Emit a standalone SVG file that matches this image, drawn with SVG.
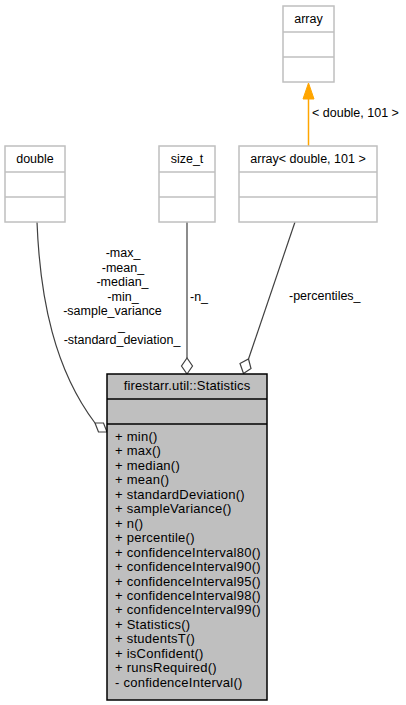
<svg xmlns="http://www.w3.org/2000/svg" width="406" height="705" viewBox="0 0 406 705">
<style>
text{font-family:"Liberation Sans",Arial,sans-serif;font-size:12.5px;fill:#000}
.c{text-anchor:middle}
.m{font-size:13px;letter-spacing:0.25px}
.t{font-size:13px;letter-spacing:0.15px}
.ext{fill:#fff;stroke:#bfbfbf;stroke-width:1.5}
.sep{stroke:#bfbfbf;stroke-width:1.5}
.main{fill:#bfbfbf;stroke:#000;stroke-width:1.5}
.msep{stroke:#000;stroke-width:1.5}
.edge{fill:none;stroke:#404040;stroke-width:1.2}
.dia{fill:#fff;stroke:#404040;stroke-width:1.2}
.tpl{fill:none;stroke:#ffa500;stroke-width:1.5}
</style>
<g id="connectors">
<path class="edge" d="M37,222 C40,300 55,370 95,423"/>
<polygon class="dia" points="107,432 103.5,423 95,423 98.5,432"/>
<path class="edge" d="M187,222 L187,358"/>
<polygon class="dia" points="187,374 192.5,366 187,358 181.5,366"/>
<path class="edge" d="M295,222 L248.5,359"/>
<polygon class="dia" points="243.5,373.5 251,368.5 248.5,359 240,363.5"/>
<path class="tpl" d="M308.5,146 L308.5,98"/>
<polygon fill="#ffa500" stroke="#ffa500" points="308.5,83 303,99 314,99"/>
<text x="123" y="257" class="c">-max_</text>
<text x="123" y="271.5" class="c">-mean_</text>
<text x="122.5" y="286" class="c">-median_</text>
<text x="123" y="300.5" class="c">-min_</text>
<text x="112.5" y="315" class="c">-sample_variance</text>
<text x="121.5" y="329.5" class="c">_</text>
<text x="122" y="344" class="c">-standard_deviation_</text>
<text x="190" y="301">-n_</text>
<text x="289" y="300">-percentiles_</text>
<text x="312" y="117">&lt; double, 101 &gt;</text>
</g>
<g id="node-array">
<rect class="ext" x="283" y="6" width="51" height="76"/>
<line class="sep" x1="283" y1="32" x2="334" y2="32"/>
<line class="sep" x1="283" y1="57" x2="334" y2="57"/>
<text x="308.5" y="23" class="c">array</text>
</g>
<g id="node-double">
<rect class="ext" x="5" y="146" width="60" height="76"/>
<line class="sep" x1="5" y1="172" x2="65" y2="172"/>
<line class="sep" x1="5" y1="197" x2="65" y2="197"/>
<text x="35" y="163" class="c">double</text>
</g>
<g id="node-size_t">
<rect class="ext" x="159" y="146" width="56" height="76"/>
<line class="sep" x1="159" y1="172" x2="215" y2="172"/>
<line class="sep" x1="159" y1="197" x2="215" y2="197"/>
<text x="187" y="163" class="c">size_t</text>
</g>
<g id="node-array_double_101">
<rect class="ext" x="239" y="146" width="138" height="76"/>
<line class="sep" x1="239" y1="172" x2="377" y2="172"/>
<line class="sep" x1="239" y1="197" x2="377" y2="197"/>
<text x="308" y="163" class="c">array&lt; double, 101 &gt;</text>
</g>
<g id="node-Statistics">
<rect class="main" x="107" y="374" width="160" height="326"/>
<line class="msep" x1="107" y1="399" x2="267" y2="399"/>
<line class="msep" x1="107" y1="424" x2="267" y2="424"/>
<text x="187" y="390" class="c t">firestarr.util::Statistics</text>
<text x="115" y="441" class="m">+ min()</text>
<text x="115" y="455.45" class="m">+ max()</text>
<text x="115" y="469.9" class="m">+ median()</text>
<text x="115" y="484.35" class="m">+ mean()</text>
<text x="115" y="498.8" class="m">+ standardDeviation()</text>
<text x="115" y="513.25" class="m">+ sampleVariance()</text>
<text x="115" y="527.7" class="m">+ n()</text>
<text x="115" y="542.15" class="m">+ percentile()</text>
<text x="115" y="556.6" class="m">+ confidenceInterval80()</text>
<text x="115" y="571.05" class="m">+ confidenceInterval90()</text>
<text x="115" y="585.5" class="m">+ confidenceInterval95()</text>
<text x="115" y="599.95" class="m">+ confidenceInterval98()</text>
<text x="115" y="614.4" class="m">+ confidenceInterval99()</text>
<text x="115" y="628.85" class="m">+ Statistics()</text>
<text x="115" y="643.3" class="m">+ studentsT()</text>
<text x="115" y="657.75" class="m">+ isConfident()</text>
<text x="115" y="672.2" class="m">+ runsRequired()</text>
<text x="115" y="686.65" class="m">- confidenceInterval()</text>
</g>
</svg>
